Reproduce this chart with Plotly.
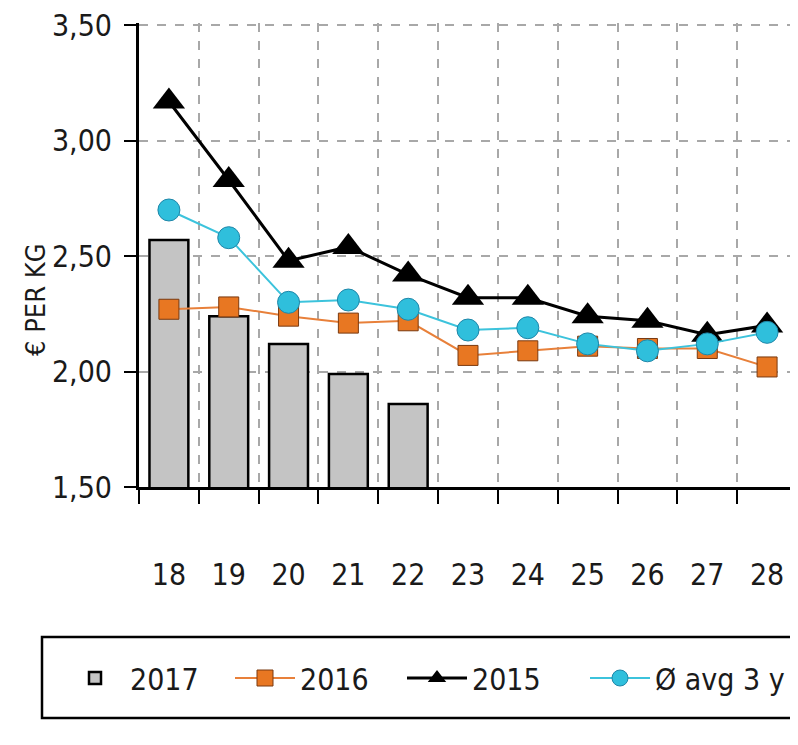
import plotly.graph_objects as go

weeks = ["18", "19", "20", "21", "22", "23", "24", "25", "26", "27", "28"]
y2017 = [2.57, 2.24, 2.12, 1.99, 1.86, None, None, None, None, None, None]
y2016 = [2.27, 2.28, 2.24, 2.21, 2.22, 2.07, 2.09, 2.11, 2.10, 2.10, 2.02]
y2015 = [3.17, 2.83, 2.48, 2.54, 2.42, 2.32, 2.32, 2.24, 2.22, 2.16, 2.20]
yavg = [2.70, 2.58, 2.30, 2.31, 2.27, 2.18, 2.19, 2.12, 2.09, 2.12, 2.17]
yticks = [1.5, 2.0, 2.5, 3.0, 3.5]

FONT = "DejaVu Sans Condensed"
TXT = "#1a1a1a"

W, H = 790, 737
L, R, T, B = 131, 1, 15, 258
PW, PH = W - L - R, H - T - B


def px_x(x):
    return (x - L) / PW


def px_y(y):
    return (H - B - y) / PH


def leg(x):
    return dict(
        orientation="h", x=px_x(x), y=px_y(670), xanchor="left", yanchor="middle",
        borderwidth=0, bgcolor="rgba(0,0,0,0)",
        font=dict(family=FONT, size=30, color=TXT),
        itemwidth=60,
    )


fig = go.Figure()
fig.add_trace(go.Bar(
    x=weeks, y=y2017, name="2017", width=0.65, legend="legend",
    marker=dict(color="#c4c4c4", line=dict(color="black", width=2.5)),
))
fig.add_trace(go.Scatter(
    x=weeks, y=y2016, name="2016", mode="lines+markers", legend="legend2",
    line=dict(color="#e8803a", width=2),
    marker=dict(symbol="square", size=20, color="#e87722",
                line=dict(color="#7a3a10", width=1)),
))
fig.add_trace(go.Scatter(
    x=weeks, y=y2015, name="2015", mode="lines+markers", legend="legend3",
    line=dict(color="black", width=3),
    marker=dict(symbol="triangle-up", size=28, color="black"),
))
fig.add_trace(go.Scatter(
    x=weeks, y=yavg, name="Ø avg 3 y", mode="lines+markers", legend="legend4",
    line=dict(color="#3cc3dc", width=2),
    marker=dict(symbol="circle", size=22, color="#2fbfdc",
                line=dict(color="#1f86a8", width=1)),
))

fig.update_layout(
    width=W, height=H,
    margin=dict(l=L, r=R, t=T, b=B),
    paper_bgcolor="white", plot_bgcolor="white",
    separators=",.",
    font=dict(family=FONT, size=24, color=TXT),
    showlegend=True,
    legend=leg(52),
    legend2=leg(222),
    legend3=leg(394),
    legend4=leg(577),
    shapes=[dict(
        type="rect", xref="paper", yref="paper",
        x0=px_x(34), x1=px_x(788), y0=px_y(710), y1=px_y(629),
        line=dict(color="black", width=2.5), fillcolor="rgba(0,0,0,0)",
        layer="below",
    )],
    annotations=[dict(
        text="€ PER KG", textangle=-90, xref="paper", yref="paper",
        x=px_x(27), y=px_y(292), xanchor="center", yanchor="middle",
        showarrow=False,
        font=dict(family=FONT, size=27, color=TXT),
    )],
)
fig.update_xaxes(
    type="category", tickson="boundaries",
    ticks="outside", ticklen=14, tickwidth=2, tickcolor="black",
    showline=True, linecolor="black", linewidth=3,
    showgrid=True, gridcolor="#a8a8a8", gridwidth=2, griddash="dash",
    ticklabelstandoff=59,
    tickfont=dict(family=FONT, size=30, color=TXT),
    range=[-0.5, 10.5],
)
fig.update_yaxes(
    range=[1.5, 3.51], tickmode="array", tickvals=yticks, tickformat=".2f",
    ticks="outside", ticklen=12, tickwidth=2, tickcolor="black",
    showline=True, linecolor="black", linewidth=3,
    showgrid=True, gridcolor="#a8a8a8", gridwidth=2, griddash="dash",
    zeroline=False, ticklabelstandoff=6, ticklabeloverflow="allow",
    tickfont=dict(family=FONT, size=30, color=TXT),
)

fig.write_html("out.html")
